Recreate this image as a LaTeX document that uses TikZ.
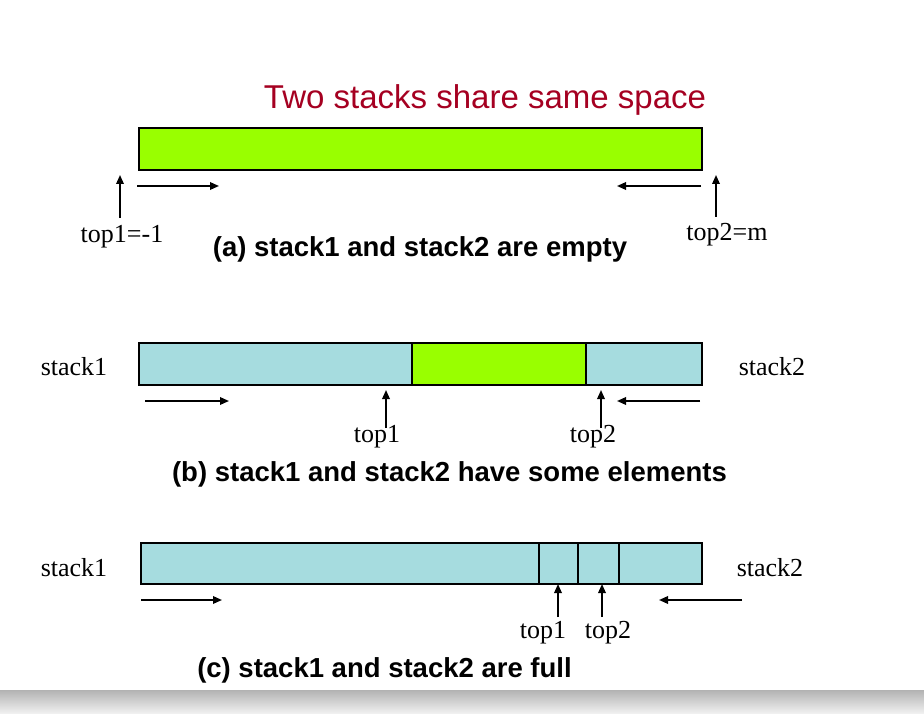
\documentclass[tikz,border=0pt]{standalone}
\usepackage{fontspec}
\setmainfont{Liberation Serif}
\setsansfont{Liberation Sans}
\usetikzlibrary{arrows.meta}
\definecolor{limegreen}{HTML}{99FF00}
\definecolor{cyanbox}{HTML}{A6DCDF}
\definecolor{titlered}{HTML}{A50021}
\begin{document}
\begin{tikzpicture}[x=1pt,y=-1pt,
  cell/.style={draw=black, line width=2.4pt, inner sep=0pt, anchor=north west},
  arr/.style={line width=1.7pt, -{Triangle[length=9pt,width=7.5pt]}},
  lbl/.style={font=\fontsize{26}{28}\selectfont, inner sep=0pt, anchor=base},
  capt/.style={font=\sffamily\bfseries\fontsize{27.5}{30}\selectfont, inner sep=0pt, anchor=base}]
\useasboundingbox[fill=white] (0,0) rectangle (924,714);
\shade[top color=black!30, bottom color=black!5] (0,690) rectangle (924,714);

% title
\node[font=\sffamily\fontsize{33}{36}\selectfont, text=titlered, inner sep=0pt, anchor=base] (title) at (485,109) {Two stacks share same space};

% ---------- (a) ----------
\node[cell, fill=limegreen, minimum width=563pt, minimum height=42pt] (boxa) at (138,127) {};
\node[lbl] (ta1) at (122,243) {top1=-1};
\node[lbl] (ta2) at (727,241) {top2=m};
\coordinate (a1s) at (120,218); \coordinate (a1e) at (120,175);
\coordinate (a2s) at (716,217); \coordinate (a2e) at (716,175);
\draw[arr] (a1s) -- (a1e);
\draw[arr] (a2s) -- (a2e);
\coordinate (ar1s) at (137,186); \coordinate (ar1e) at (219,186);
\coordinate (ar2s) at (701,186); \coordinate (ar2e) at (617,186);
\draw[arr] (ar1s) -- (ar1e);
\draw[arr] (ar2s) -- (ar2e);
\node[capt] (capa) at (420,257) {(a) stack1 and stack2 are empty};

% ---------- (b) ----------
\node[cell, fill=cyanbox, minimum width=273pt, minimum height=42pt] (b1) at (138,342) {};
\node[cell, fill=limegreen, minimum width=174pt, minimum height=42pt] (b2) at (411,342) {};
\node[cell, fill=cyanbox, minimum width=116pt, minimum height=42pt] (b3) at (585,342) {};
\node[lbl] (sb1) at (74,375) {stack1};
\node[lbl] (sb2) at (772,375) {stack2};
\node[lbl] (tb1) at (377,442) {top1};
\node[lbl] (tb2) at (593,442) {top2};
\coordinate (b1s) at (386,428); \coordinate (b1e) at (386,390);
\coordinate (b2s) at (601,428); \coordinate (b2e) at (601,390);
\draw[arr] (b1s) -- (b1e);
\draw[arr] (b2s) -- (b2e);
\coordinate (br1s) at (145,401); \coordinate (br1e) at (229,401);
\coordinate (br2s) at (700,401); \coordinate (br2e) at (617,401);
\draw[arr] (br1s) -- (br1e);
\draw[arr] (br2s) -- (br2e);
\node[capt] (capb) at (449.5,481) {(b) stack1 and stack2 have some elements};

% ---------- (c) ----------
\node[cell, fill=cyanbox, minimum width=398pt, minimum height=41pt] (c1) at (140,542) {};
\node[cell, fill=cyanbox, minimum width=39pt, minimum height=41pt] (c2) at (538,542) {};
\node[cell, fill=cyanbox, minimum width=41pt, minimum height=41pt] (c3) at (577,542) {};
\node[cell, fill=cyanbox, minimum width=83pt, minimum height=41pt] (c4) at (618,542) {};
\node[lbl] (sc1) at (74,576) {stack1};
\node[lbl] (sc2) at (770,576) {stack2};
\node[lbl] (tc1) at (543,638) {top1};
\node[lbl] (tc2) at (608,638) {top2};
\coordinate (c1s) at (558,617); \coordinate (c1e) at (558,584);
\coordinate (c2s) at (602,617); \coordinate (c2e) at (602,584);
\draw[arr] (c1s) -- (c1e);
\draw[arr] (c2s) -- (c2e);
\coordinate (cr1s) at (141,600); \coordinate (cr1e) at (222,600);
\coordinate (cr2s) at (742,600); \coordinate (cr2e) at (659,600);
\draw[arr] (cr1s) -- (cr1e);
\draw[arr] (cr2s) -- (cr2e);
\node[capt] (capc) at (384.5,677) {(c) stack1 and stack2 are full};
\end{tikzpicture}
\end{document}
